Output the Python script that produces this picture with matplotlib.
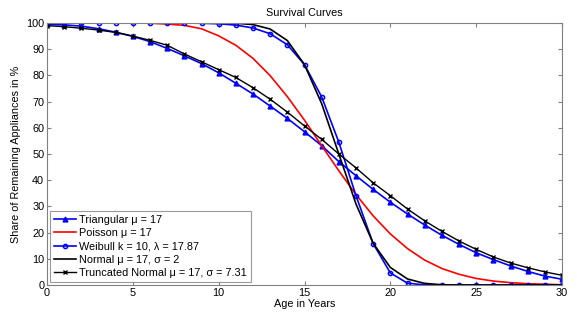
import numpy as np
import matplotlib
matplotlib.use("Agg")
import matplotlib.pyplot as plt

plt.rcParams['font.family'] = ['Liberation Sans', 'DejaVu Sans']

# age in years
age = list(range(0, 31))

# share of remaining appliances in %
triangular = [99.5, 99.3, 98.8, 97.8, 96.5, 94.9, 92.9, 90.3, 87.5, 84.5,
              81.0, 77.0, 72.9, 68.3, 63.6, 58.5, 53.2, 47.1, 41.7, 36.5,
              31.6, 27.1, 22.9, 19.0, 15.5, 12.3, 9.7, 7.3, 5.2, 3.4, 2.2]
poisson = [100, 100, 100, 100, 100, 100, 99.9, 99.6, 99.1, 97.8,
           95.1, 91.5, 86.5, 79.9, 71.9, 62.9, 53.2, 43.6, 34.5, 26.4,
           19.5, 13.9, 9.5, 6.3, 4.1, 2.5, 1.5, 0.9, 0.5, 0.3, 0.1]
weibull = [100, 100, 100, 100, 100, 100, 100, 100, 100, 99.9,
           99.7, 99.2, 98.1, 95.9, 91.7, 84.1, 71.8, 54.5, 34.1, 15.8,
           4.6, 0.7, 0.05, 0, 0, 0, 0, 0, 0, 0, 0]
normal = [100, 100, 100, 100, 100, 100, 100, 100, 100, 100,
          100, 99.9, 99.4, 97.7, 93.3, 84.1, 69.2, 50.0, 30.9, 15.9,
          6.7, 2.3, 0.6, 0.1, 0, 0, 0, 0, 0, 0, 0]
trunc_normal = [99.0, 98.6, 98.0, 97.3, 96.4, 95.0, 93.4, 91.5, 88.2, 85.2,
                82.2, 79.2, 75.3, 70.9, 66.0, 60.7, 55.6, 50.0, 44.7, 39.0,
                34.1, 29.0, 24.5, 20.5, 16.8, 13.6, 10.7, 8.4, 6.6, 5.0, 3.7]

fig = plt.figure(figsize=(5.77, 3.2), dpi=100)
ax = fig.add_axes([47/577, 1 - 285/320, 515/577, 262/320])

ax.plot(age, triangular, color='#0000ff', lw=1.2, marker='^', ms=3.5,
        label='Triangular \u03bc = 17')
ax.plot(age, poisson, color='#ff0000', lw=1.2, label='Poisson \u03bc = 17')
ax.plot(age, weibull, color='#0000ff', lw=1.2, marker='o', ms=3.0, mfc='none',
        mew=1.1, label='Weibull k = 10, \u03bb = 17.87')
ax.plot(age, normal, color='black', lw=1.2, label='Normal \u03bc = 17, \u03c3 = 2')
ax.plot(age, trunc_normal, color='black', lw=1.0, marker='x', ms=3.5,
        label='Truncated Normal \u03bc = 17, \u03c3 = 7.31')

ax.set_xlim(0, 30)
ax.set_ylim(0, 100)
ax.set_xticks(range(0, 31, 5))
ax.set_yticks(range(0, 101, 10))
ax.tick_params(direction='in', top=True, right=True, labelsize=7.8,
               length=3, color='#808080', pad=2)
for s in ax.spines.values():
    s.set_color('#808080')
    s.set_linewidth(0.8)

ax.set_title('Survival Curves', fontsize=7.8, pad=5)
ax.set_xlabel('Age in Years', fontsize=7.8, labelpad=1)
ax.set_ylabel('Share of Remaining Appliances in %', fontsize=7.8, labelpad=4)

leg = ax.legend(loc='lower left', fontsize=7.8, frameon=True, fancybox=False,
                borderaxespad=0.3, handlelength=2.0, labelspacing=0.3,
                borderpad=0.35, handletextpad=0.3)
leg.get_frame().set_edgecolor('#808080')
leg.get_frame().set_linewidth(0.8)

fig.savefig('out.png', dpi=100)
